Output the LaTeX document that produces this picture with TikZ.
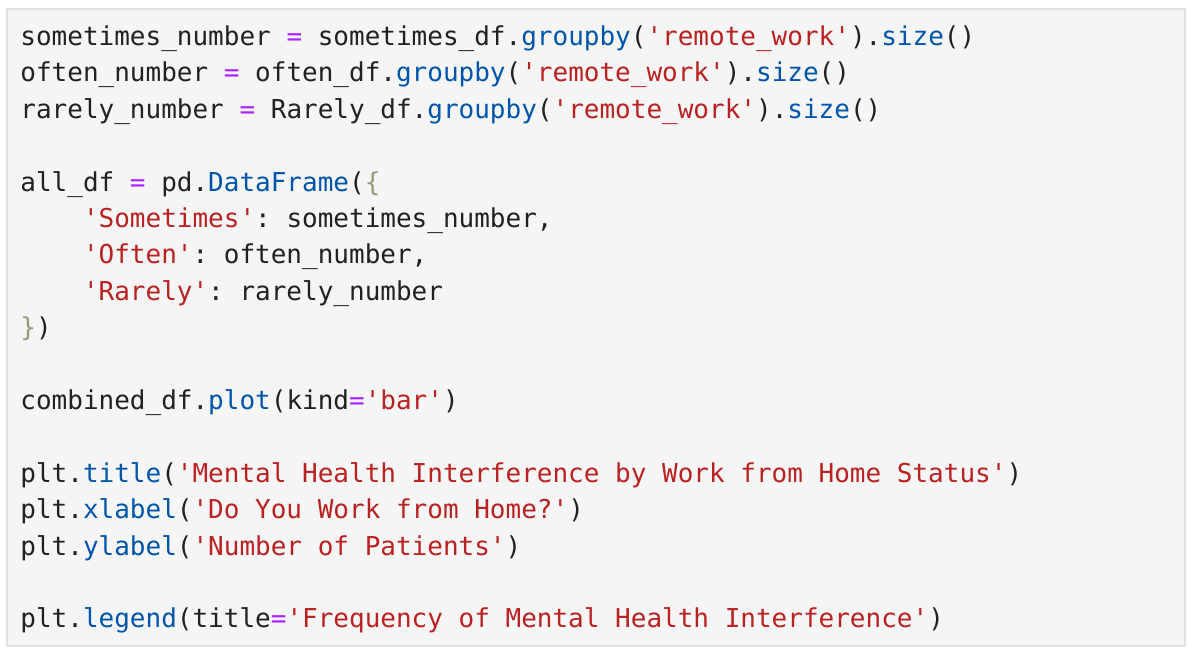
\documentclass[tikz,border=0pt]{standalone}
\usepackage{fontspec}
\setmonofont{DejaVu Sans Mono}
\usepackage{xcolor}
\usepackage{tikz}
\definecolor{codebg}{HTML}{F5F5F5}
\definecolor{codeframe}{HTML}{E0E0E0}
\definecolor{codetext}{HTML}{212121}
\definecolor{opcolor}{HTML}{AA22FF}
\definecolor{fncolor}{HTML}{0055AA}
\definecolor{strcolor}{HTML}{BA2121}
\definecolor{brcolor}{HTML}{999977}
\newcommand{\opc}[1]{\textcolor{opcolor}{#1}}
\newcommand{\fnc}[1]{\textcolor{fncolor}{#1}}
\newcommand{\strc}[1]{\textcolor{strcolor}{#1}}
\newcommand{\brc}[1]{\textcolor{brcolor}{#1}}
\tikzset{codeline/.style={anchor=base west, inner sep=0pt, text=codetext,
    font=\ttfamily\fontsize{13pt}{18pt}\selectfont}}

\begin{document}
\begin{tikzpicture}[x=0.5pt, y=-0.5pt]
		\useasboundingbox (0,0) rectangle (1194,660);
		\draw [draw=codeframe, fill=codebg, line width=1pt] (7,9) rectangle (1185,646);
		
		\node[codeline] (sometimes) at (20,45.5) {sometimes\_number \opc{=} sometimes\_df.\fnc{groupby}(\strc{'remote\_work'}).\fnc{size}()};
		\node[codeline] (often) at (20,81.9) {often\_number \opc{=} often\_df.\fnc{groupby}(\strc{'remote\_work'}).\fnc{size}()};
		\node[codeline] (rarely) at (20,118.3) {rarely\_number \opc{=} Rarely\_df.\fnc{groupby}(\strc{'remote\_work'}).\fnc{size}()};
		
		\node[codeline] (alldf) at (20,191.1) {all\_df \opc{=} pd.\fnc{DataFrame}(\brc{\{}};
		\node[codeline] (keysometimes) at (20,227.5) {\hphantom{xxxx}\strc{'Sometimes'}: sometimes\_number,};
		\node[codeline] (keyoften) at (20,263.9) {\hphantom{xxxx}\strc{'Often'}: often\_number,};
		\node[codeline] (keyrarely) at (20,300.3) {\hphantom{xxxx}\strc{'Rarely'}: rarely\_number};
		\node[codeline] (close) at (20,336.7) {\brc{\}})};
		
		\node[codeline] (plot) at (20,409.5) {combined\_df.\fnc{plot}(kind\opc{=}\strc{'bar'})};
		
		\node[codeline] (title) at (20,482.3) {plt.\fnc{title}(\strc{'Mental Health Interference by Work from Home Status'})};
		\node[codeline] (xlabel) at (20,518.7) {plt.\fnc{xlabel}(\strc{'Do You Work from Home?'})};
		\node[codeline] (ylabel) at (20,555.1) {plt.\fnc{ylabel}(\strc{'Number of Patients'})};
		
		\node[codeline] (legend) at (20,627.9) {plt.\fnc{legend}(title\opc{=}\strc{'Frequency of Mental Health Interference'})};
	\end{tikzpicture}
\end{document}
